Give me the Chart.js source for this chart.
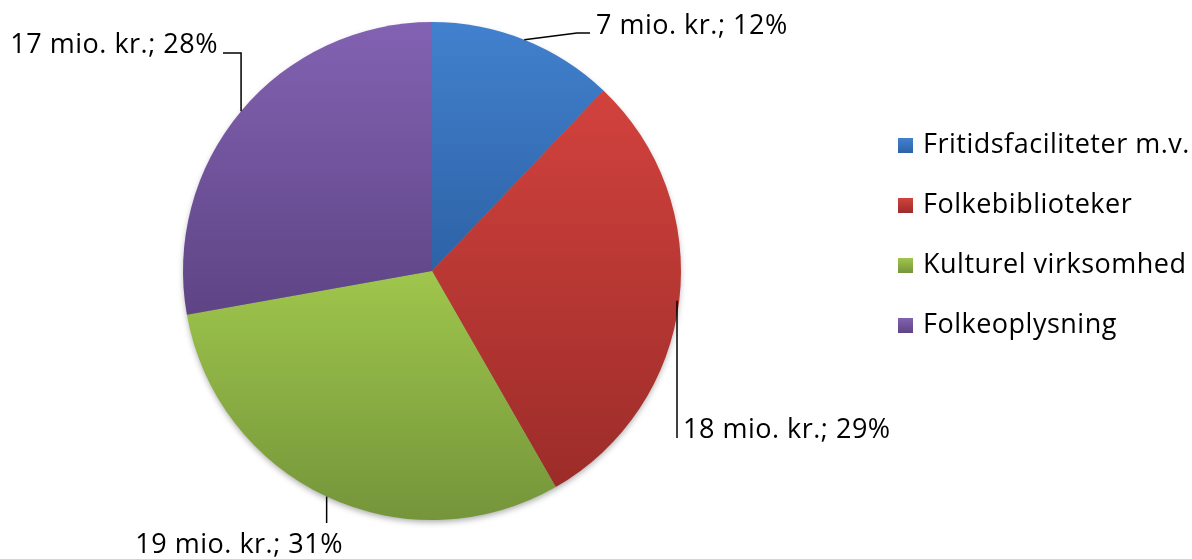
<!DOCTYPE html>
<html>
<head>
<meta charset="utf-8">
<script src="https://cdn.jsdelivr.net/npm/chart.js@4"></script>
<style>
  html, body { margin: 0; padding: 0; background: #fff; }
  #wrap { width: 1192px; height: 559px; }
</style>
</head>
<body>
<div id="wrap"><canvas id="kulturChart" width="1192" height="559"></canvas></div>
<script>
// kategorier og tal
const categories = ['Fritidsfaciliteter m.v.', 'Folkebiblioteker', 'Kulturel virksomhed', 'Folkeoplysning'];
// udgifter i mio. kr. (skønnet ud fra skivernes størrelse)
const expenses = [7.3, 17.9, 18.4, 16.8];
// tal som de står i etiketterne
const amounts = [7, 18, 19, 17];
const shares = [12, 29, 31, 28];

// farver: top (lys) og bund (mørk) for hver skive
const topColors = ['#4281ce', '#d2423d', '#9fc64c', '#8262b2'];
const bottomColors = ['#2d62a6', '#9c2c29', '#74953a', '#5e4485'];

const FONT = '"Open Sans", "Lato", sans-serif';
const FONT_SIZE = 27;

function sliceGradient(context) {
    const chart = context.chart;
    const area = chart.chartArea;
    const i = context.dataIndex;
    if (!area || i === undefined) return topColors[i || 0];
    const cx = (area.left + area.right) / 2;
    const cy = (area.top + area.bottom) / 2;
    const r = Math.min(area.width, area.height) / 2;
    const total = expenses.reduce((a, b) => a + b, 0);
    let before = 0;
    for (let k = 0; k < i; k++) before += expenses[k];
    const a0 = -Math.PI / 2 + before / total * Math.PI * 2;
    const a1 = a0 + expenses[i] / total * Math.PI * 2;
    let minY = cy, maxY = cy;
    for (let s = 0; s <= 60; s++) {
        const a = a0 + (a1 - a0) * s / 60;
        const y = cy + r * Math.sin(a);
        minY = Math.min(minY, y);
        maxY = Math.max(maxY, y);
    }
    const g = chart.ctx.createLinearGradient(0, minY, 0, maxY);
    g.addColorStop(0, topColors[i]);
    g.addColorStop(1, bottomColors[i]);
    return g;
}

// skygge under lagkagen
const shadowPlugin = {
    id: 'pieShadow',
    beforeDatasetsDraw(chart) {
        const arc = chart.getDatasetMeta(0).data[0];
        if (!arc) return;
        const ctx = chart.ctx;
        ctx.save();
        ctx.shadowColor = 'rgba(0,0,0,0.35)';
        ctx.shadowBlur = 6;
        ctx.shadowOffsetY = 3;
        ctx.fillStyle = '#888';
        ctx.beginPath();
        ctx.arc(arc.x, arc.y, arc.outerRadius - 1, 0, Math.PI * 2);
        ctx.fill();
        ctx.restore();
    }
};

function setFont(ctx) {
    ctx.font = FONT_SIZE + 'px ' + FONT;
    ctx.letterSpacing = '0.5px';
}

// dataetiketter med hjælpelinjer
const labelPlugin = {
    id: 'sliceLabels',
    afterDatasetsDraw(chart) {
        const ctx = chart.ctx;
        const arcs = chart.getDatasetMeta(0).data;
        ctx.save();
        setFont(ctx);
        ctx.fillStyle = '#000';
        ctx.strokeStyle = '#000';
        ctx.lineWidth = 1.5;
        ctx.textBaseline = 'alphabetic';
        const anchor = (el) => {
            const mid = (el.startAngle + el.endAngle) / 2;
            return [el.x + Math.cos(mid) * el.outerRadius, el.y + Math.sin(mid) * el.outerRadius];
        };
        const text = (i) => amounts[i] + ' mio. kr.; ' + shares[i] + '%';

        // 0: blå, øverst til højre
        let p = anchor(arcs[0]);
        ctx.beginPath();
        ctx.moveTo(p[0], p[1]); ctx.lineTo(577, 33); ctx.lineTo(590, 33);
        ctx.stroke();
        ctx.textAlign = 'left';
        ctx.fillText(text(0), 596, 34);

        // 1: rød, højre
        p = anchor(arcs[1]);
        ctx.beginPath();
        ctx.moveTo(677, p[1]); ctx.lineTo(677, 438);
        ctx.stroke();
        ctx.fillText(text(1), 683, 438);

        // 2: grøn, nederst
        p = anchor(arcs[2]);
        ctx.beginPath();
        ctx.moveTo(p[0], p[1]); ctx.lineTo(p[0], 523);
        ctx.stroke();
        ctx.textAlign = 'right';
        ctx.fillText(text(2), 343, 553);

        // 3: lilla, øverst til venstre
        p = anchor(arcs[3]);
        ctx.beginPath();
        ctx.moveTo(223, 53); ctx.lineTo(p[0], 53); ctx.lineTo(p[0], p[1]);
        ctx.stroke();
        ctx.fillText(text(3), 218, 53);
        ctx.restore();
    }
};

// forklaring til højre
const legendPlugin = {
    id: 'sideLegend',
    afterDraw(chart) {
        const ctx = chart.ctx;
        ctx.save();
        setFont(ctx);
        ctx.textAlign = 'left';
        ctx.textBaseline = 'alphabetic';
        categories.forEach((name, i) => {
            const base = 153 + i * 60;
            const g = ctx.createLinearGradient(0, base - 15, 0, base);
            g.addColorStop(0, topColors[i]);
            g.addColorStop(1, bottomColors[i]);
            ctx.fillStyle = g;
            ctx.fillRect(898, base - 15, 15, 15);
            ctx.fillStyle = '#000';
            ctx.fillText(name, 923, base);
        });
        ctx.restore();
    }
};

new Chart(document.getElementById('kulturChart'), {
    type: 'pie',
    data: {
        labels: categories,
        datasets: [{
            data: expenses,
            backgroundColor: sliceGradient,
            borderWidth: 0,
            hoverOffset: 0
        }]
    },
    options: {
        responsive: false,
        animation: false,
        radius: 249,
        layout: {
            padding: { left: 183, right: 511, top: 22, bottom: 39 }
        },
        plugins: {
            legend: { display: false },
            tooltip: { enabled: false }
        }
    },
    plugins: [shadowPlugin, labelPlugin, legendPlugin]
});
</script>
</body>
</html>
